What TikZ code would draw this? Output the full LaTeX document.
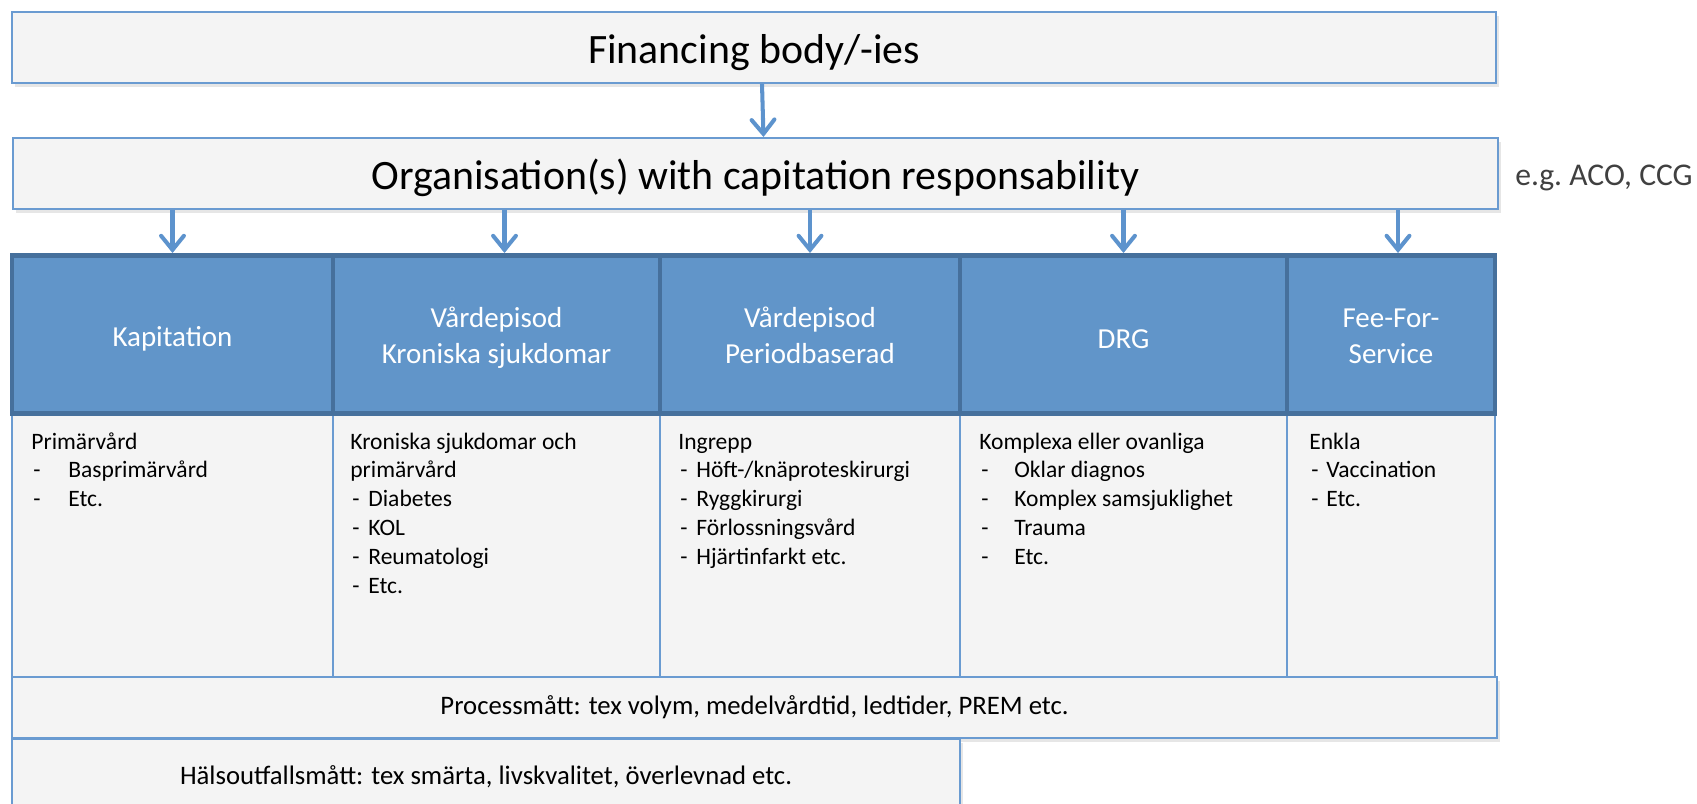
\documentclass[tikz,border=0pt]{standalone}
\usepackage{fontspec}
\setmainfont{Carlito}
\usetikzlibrary{positioning,arrows.meta,shadows}
\newlength{\px}
\setlength{\px}{0.02cm}
\definecolor{hdrfill}{HTML}{6195C9}
\definecolor{hdrline}{HTML}{46709C}
\definecolor{boxfill}{HTML}{F4F4F4}
\definecolor{boxline}{HTML}{6A9BD1}
\definecolor{arrowblue}{HTML}{5D93CD}
\definecolor{notegray}{HTML}{404040}
\newcommand{\dashitem}[2]{\makebox[#2][l]{\hspace{2\px}-}#1}
\tikzset{
box/.style={draw=boxline, line width=1.1pt, fill=boxfill, inner sep=0pt}, % the light grey boxes
bigbox/.style={box, minimum height=71\px, font=\fontsize{23.8}{28}\selectfont,
  text height=32\px, text depth=0pt,
  drop shadow={shadow xshift=1.5pt, shadow yshift=-2pt, opacity=.2}}, % top two rows
head/.style={draw=hdrline, line width=2.8pt, fill=hdrfill, text=white, inner sep=0pt,
  minimum height=158\px, align=center, font=\fontsize{16.5}{20.3}\selectfont,
  text height=28\px}, % payment model row
head2/.style={head, text height=57\px, text depth=0pt}, % two lines of text
cell/.style={box, minimum height=264\px}, % content under each model
list/.style={inner sep=0pt, font=\fontsize{13.4}{16.4}\selectfont},
measure/.style={box, font=\fontsize{15.2}{18}\selectfont,
  drop shadow={shadow xshift=1.5pt, shadow yshift=-2pt, opacity=.2}},
flow/.style={draw=arrowblue, line width=2.3pt, -{Straight Barb[length=8pt, width=13pt, line cap=round]}},
}

\begin{document}
\begin{tikzpicture}[x=\px, y=-\px]
\useasboundingbox (0,0) rectangle (1697,804);

\node[bigbox, minimum width=1484\px] (fin) at (754,47.5) {Financing body/-ies};
\node[bigbox, minimum width=1485\px] (org) at (755.5,173.5) {Organisation(s) with capitation responsability};
\node[inner sep=0pt, anchor=base east, text=notegray, font=\fontsize{18}{22}\selectfont] (eg) at (1693,186) {e.g.\ ACO, CCG};

% content cells
\node[cell, minimum width=321\px] (kapc) at (172.5,545) {};
\node[cell, minimum width=327\px] (kronc) at (496.5,545) {};
\node[cell, minimum width=300\px] (perc) at (810,545) {};
\node[cell, minimum width=327\px] (drgc) at (1123.5,545) {};
\node[cell, minimum width=208\px] (ffsc) at (1391,545) {};

% payment models
\node[head, minimum width=321\px] (kap) at (172.5,334.5) {Kapitation};
\node[head2, minimum width=327\px] (kron) at (496.5,334.5) {Vårdepisod\\Kroniska sjukdomar};
\node[head2, minimum width=300\px] (per) at (810,334.5) {Vårdepisod\\Periodbaserad};
\node[head, minimum width=327\px] (drg) at (1123.5,334.5) {DRG};
\node[head2, minimum width=208\px] (ffs) at (1391,334.5) {Fee-For-\\Service};

\node[list, anchor=base west] (kapt) at ([shift={(20,37)}]kapc.north west) {\begin{tabular}[t]{@{}l@{}}
Primärvård\\ \dashitem{Basprimärvård}{37\px}\\ \dashitem{Etc.}{37\px}\end{tabular}};
\node[list, anchor=base west] (kront) at ([shift={(18,37)}]kronc.north west) {\begin{tabular}[t]{@{}l@{}}
Kroniska sjukdomar och\\ primärvård\\ \dashitem{Diabetes}{18\px}\\ \dashitem{KOL}{18\px}\\
\dashitem{Reumatologi}{18\px}\\ \dashitem{Etc.}{18\px}\end{tabular}};
\node[list, anchor=base west] (pert) at ([shift={(19,37)}]perc.north west) {\begin{tabular}[t]{@{}l@{}}
Ingrepp\\ \dashitem{Höft-/knäproteskirurgi}{18\px}\\ \dashitem{Ryggkirurgi}{18\px}\\
\dashitem{Förlossningsvård}{18\px}\\ \dashitem{Hjärtinfarkt etc.}{18\px}\end{tabular}};
\node[list, anchor=base west] (drgt) at ([shift={(20,37)}]drgc.north west) {\begin{tabular}[t]{@{}l@{}}
Komplexa eller ovanliga\\ \dashitem{Oklar diagnos}{35\px}\\ \dashitem{Komplex samsjuklighet}{35\px}\\
\dashitem{Trauma}{35\px}\\ \dashitem{Etc.}{35\px}\end{tabular}};
\node[list, anchor=base west] (ffst) at ([shift={(23,37)}]ffsc.north west) {\begin{tabular}[t]{@{}l@{}}
Enkla\\ \dashitem{Vaccination}{17\px}\\ \dashitem{Etc.}{17\px}\end{tabular}};

% measures
\node[measure, minimum width=1485\px, minimum height=61\px] (proc) at (754.5,707.5) {Processmått: tex volym, medelvårdtid, ledtider, PREM etc.};
\node[measure, minimum width=948\px, minimum height=76\px] (halsa) at (486,777) {Hälsoutfallsmått: tex smärta, livskvalitet, överlevnad etc.};

\draw[flow] ([xshift=8\px]fin.south) -- ([xshift=8\px]org.north);
\draw[flow] (org.south -| kap.north) -- (kap.north);
\draw[flow] ([xshift=8\px]org.south -| kron.north) -- ([xshift=8\px]kron.north);
\draw[flow] (org.south -| per.north) -- (per.north);
\draw[flow] (org.south -| drg.north) -- (drg.north);
\draw[flow] ([xshift=7\px]org.south -| ffs.north) -- ([xshift=7\px]ffs.north);

\end{tikzpicture}
\end{document}
